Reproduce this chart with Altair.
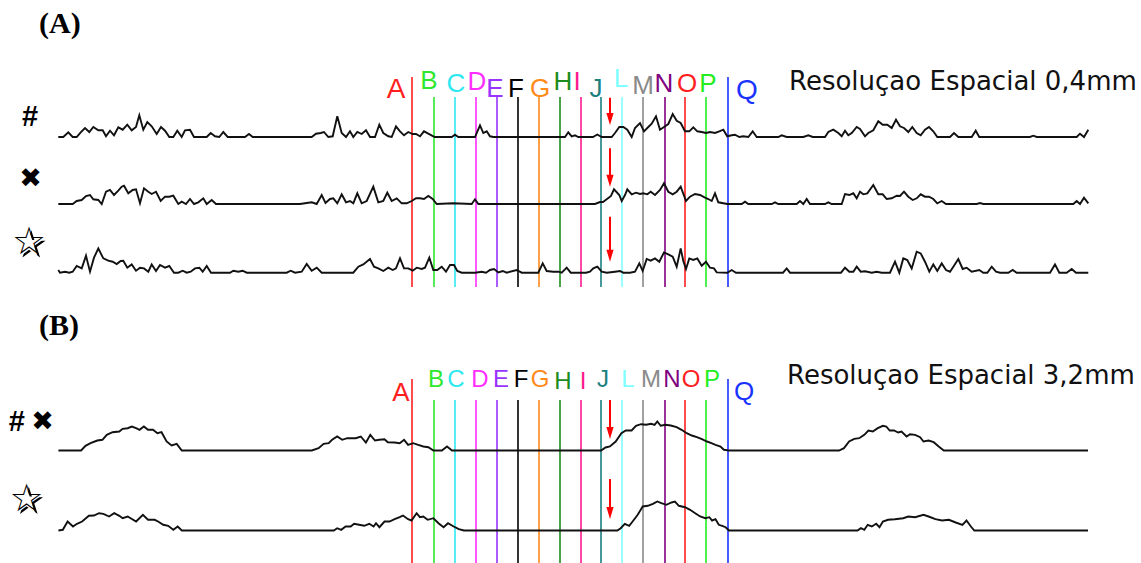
import altair as alt
import pandas as pd

W, H = 1141, 563

# ---------------- marker lines (position along scan, px) ----------------
MARKERS = ["A", "B", "C", "D", "E", "F", "G", "H", "I", "J", "L", "M", "N", "O", "P", "Q"]
MARKER_X = [412, 434, 455, 476, 497, 518, 539, 560, 581, 601, 622, 643, 665, 685, 706, 728]
MARKER_COLORS = ["#ff1f1f", "#2ee82e", "#2ee8f0", "#ff2eff", "#9933ff", "#000000", "#ff8a1a",
                 "#1c8c1c", "#ff1a8c", "#1a8080", "#80ffff", "#8a8a8a", "#800080", "#ff1f1f",
                 "#22ee22", "#1a33ff"]

# label anchor positions (layout)
LABEL_POS_A = [(396, 90), (429, 81), (456, 84), (477, 82), (495, 89), (516, 89), (540, 89),
               (563, 82), (577, 82), (596, 89), (621, 79), (643, 86), (664, 84), (687, 84),
               (708, 84), (747, 91)]
LABEL_POS_B = [(401, 393), (436, 380), (456, 380), (480, 380), (501, 380), (521, 380), (540, 380),
               (563, 382), (583, 382), (603, 380), (628, 380), (651, 380), (672, 380), (691, 380),
               (712, 380), (744, 392)]

# ---------------- traces: (position, amplitude) ----------------
TRACE_A1 = [(58.3,0),(63.3,0),(68.3,4.7),(72.7,0),(76.7,0),(80.7,4.7),(85,9),(89.3,5),(93.3,10),(98.3,6.7),
    (102.7,6.7),(106,0.7),(110,6.3),(114,1.7),(118.3,9.7),(122.7,7.3),(127.3,12.3),(131.7,6.7),(136,10),
    (139.3,21.7),(143.3,7.3),(147.3,15),(151.7,10.7),(156.7,3),(161,10),(165,6.3),(169.3,0),(173.3,0),
    (177.3,6.3),(181.7,0),(185,6.7),(190,7.3),(194,0),(206.7,0),(210.7,4),(215,0.7),(219.3,0),(223.3,5),
    (227.7,0),(245,0),(249,3),(252.7,0),(311.7,0),(316,3.3),(320.7,4),(324,5),(328.3,0),(332.7,0.7),
    (337.3,20.7),(341.7,4),(346,0),(350,5.7),(353.3,0),(357.3,5),(361.7,3),(366,6.7),(370,0),(375,0),
    (379.3,12.3),(383.3,4),(388.3,0.7),(391.7,0),(396,10.7),(400,5.7),(404,1.7),(408.3,5),(412.7,3),
    (416,3),(420,0.7),(424,5.7),(428.3,3.3),(433.3,0.7),(435,0),(451.7,0),(455,2.3),(458.3,0),(475,0),
    (480,11.7),(483.3,4),(486.7,5.7),(490,0.7),(493.3,0),(565,0),(568.3,4.7),(571.7,0.7),(575,1.7),
    (578.3,0),(593,0),(597.3,2.5),(601.7,0),(611.7,0),(615,4),(619.3,10),(623.3,10),(627.3,7.3),
    (631.7,0),(635,9),(640,14),(644,5.7),(648.3,10),(651.7,13.3),(656,20.7),(660,7.3),(664,10),
    (668.3,13),(672.7,23),(676.7,16.3),(680.7,14),(685,5.7),(689.3,5.7),(693.3,9.7),(697.3,5.7),
    (701.7,5),(706,4),(710,5),(715,4),(719.3,5.7),(723.3,7.3),(727.3,0.7),(731.7,1.7),(735,2.3),
    (739.3,0),(743.3,0.7),(748.3,0),(752.7,5.7),(756.7,0),(778.3,0),(781.7,1.7),(786.7,0),(803.3,0),
    (808.3,1.7),(812.7,0),(825,0),(828.3,5),(833.3,7.3),(838.3,4),(841.7,0.7),(845,6.3),(848.3,1.7),
    (851.7,4),(856.7,10),(860,8),(865,0.7),(868.3,4),(873.3,6.7),(878.3,15.7),(882.7,12.3),(887.3,12.3),
    (891.7,9),(896,17.3),(900,10.7),(904,9),(908.3,5),(912.3,10),(916.7,4),(920.7,1.7),(925,7.3),
    (929,10),(933.3,5.7),(937.3,0),(950,0),(954,4),(958.3,0),(971.7,0),(975.7,6.3),(979.3,0),(1030,0),
    (1033.3,1.3),(1036.7,0),(1076.7,0),(1080,3.3),(1084,0),(1088.3,7.3)]

TRACE_A2 = [(58.3,0),(72.7,0),(76.7,3),(81.7,4),(86,8),(90,9),(93.3,4.7),(98.3,4),(101.7,0),(106,12.3),
    (110,14),(114,9),(118.3,13.3),(121.7,17.3),(124,18.3),(128.3,10.7),(132.7,14),(136,14.7),(140,0.7),
    (144,15.7),(148.3,12.3),(151.7,10),(156,12.3),(160.7,3),(165,7.3),(169.3,7.3),(173.3,8.3),(178.3,0),
    (181.7,2.3),(186,0),(190,5),(194,0),(198.3,1.7),(203.3,5.7),(206.7,0),(211.7,4),(216,0),(300,0),
    (305,0.7),(311.7,1.7),(316.7,0),(321.7,9),(325.5,1),(330,5),(333.3,5.7),(337.3,0.7),(341.7,9.7),
    (346,1.7),(350,3),(353.3,0.7),(357.3,10.7),(361.7,0.7),(366.7,3),(373.3,17.3),(378.3,1.7),(383.3,3),
    (387.3,11.3),(391.7,3),(396.7,5.7),(401.7,0.7),(406.7,0.7),(411.7,3),(416,5.7),(420,5.7),(424,5),
    (428.3,8),(432.7,5),(436.7,0),(453.3,0.7),(471.7,0),(475,4.7),(478.3,0),(595,0),(600,2),(603,2),
    (607,5),(611,8),(614,14.7),(619.3,9),(621.7,3),(625,9),(627.3,14.7),(631.7,9.7),(636,11.3),(640,10),
    (643.3,10.7),(647.3,9.7),(650.7,12.3),(655,9),(660,14),(664,20.7),(668.3,12.3),(672.7,9.7),
    (676.7,12.3),(680.7,17.3),(686,3),(690,7.3),(695,10),(700,9),(705,6.3),(708.3,5),(711.7,3),
    (715,10.7),(718.3,1.7),(727.3,0),(741.7,0),(745,2.3),(748.3,0),(771.7,0),(775,1.7),(778.3,0),
    (796.7,0),(800,3),(803.3,0),(806.7,5),(810,0),(825,0),(828.3,1.7),(831.7,0),(841.7,0),(845,10),
    (849.3,9),(853.3,10.7),(856.7,5.7),(860,12.3),(863.3,9.7),(867.3,10.7),(873.3,19),(878.3,9.7),
    (882.7,9.7),(886.7,5),(891.7,5.7),(896.7,8.3),(900,8),(904,12.3),(908.3,7.3),(912.7,4),(916.7,5.7),
    (920.7,9.7),(925,7.3),(929,7.3),(933.3,5),(937.3,0.7),(941.7,3),(946,0),(976.7,0),(980,1),(983.3,0),
    (1073.3,0),(1076.7,3),(1080,0),(1084,6.3),(1088.3,0.7)]

TRACE_A3 = [(58.3,2.7),(60,0),(65,1),(69.3,0),(72.7,1),(76.7,6.7),(81.7,4.3),(86,17),(90,1),(94,15),
    (98.3,24.3),(103.3,14.3),(108.3,12),(112.7,11),(116.7,8.7),(120.7,11.7),(123.3,12),(127.3,5),
    (131.7,8.3),(136,2),(140,5),(144,4.3),(148.3,1),(151.7,8.3),(156,1.7),(160,7.7),(165,5),(169.3,6.7),
    (174,0),(178.3,0),(182.7,2),(186.7,0),(190.7,1),(195,4.3),(199.3,5),(202.7,1),(206.7,6.7),(211,0),
    (230,0),(233.3,2),(238.3,1),(242.7,2),(246.7,0),(286.7,0),(290.7,2),(295,0),(301.7,1),(306.7,8.7),
    (311.7,2),(316.7,5),(321.7,0),(353.3,0),(358.3,6),(363.3,8.3),(370,13.7),(374,6),(378.3,4.3),
    (383.3,1.7),(388.3,5),(392.7,2.7),(396,4.3),(400,14.3),(404,4.3),(408.3,4.3),(412.7,2),(416.7,5),
    (421.7,3.7),(425,5),(429.3,15),(433.3,2.7),(437.3,2.7),(441.7,6),(446,1),(450,7.7),(454,7.7),
    (457.3,1.7),(461.7,0),(475,0),(481.7,1),(486,0),(490,2.7),(494,3.7),(498.3,0.3),(502.7,1.7),
    (506.7,0),(516.7,2.7),(521.7,0),(538.3,0),(542.7,9.3),(546.7,1.7),(553.3,1),(558.3,1),(561.7,0),
    (566.7,5),(570.7,0),(586,0),(590,1),(593.3,4.3),(597.3,6),(601.7,1),(606.7,0),(615,1),(620,1.7),
    (623.3,0),(630,0),(635,1),(639.3,9.3),(642.7,1.7),(646.7,13.7),(650.7,12),(655,14.3),(659.3,11),
    (664,20.3),(668.3,18.3),(672.7,16),(676.7,6),(680.7,24.3),(683.3,11.7),(686,3.7),(689.3,14.3),
    (693.3,12.7),(697.3,14.3),(701.7,7),(706,11),(710,5),(714,4.3),(716.7,0.3),(727.3,0),(731.7,2.7),
    (736,0),(783,0),(786.7,4.3),(790,0),(841,0),(845,5),(849.3,1),(853.3,1),(856.7,6),(860.7,1),
    (865,1.5),(871.7,0),(876.7,1),(881.7,0),(890,0),(895,11),(899.3,0),(903.3,14.3),(907.3,12.7),
    (911.7,4.3),(916.7,21),(920.7,19.3),(925,11),(929.3,1),(933.3,8.3),(937.3,1.7),(941.7,9.3),
    (946,2.7),(950,1),(954,7),(958.3,13.7),(962.7,3.7),(966.7,5),(971.7,1),(979.3,2.7),(983.3,0),
    (987.3,0),(991.7,6),(996,1),(1000,0),(1008.3,0),(1012.7,2.7),(1016.7,0),(1050,0),(1055,8.3),
    (1059.3,0),(1066.7,0),(1071.7,3.7),(1076,0),(1088.3,0)]

TRACE_B1 = [(58.4,0),(81.1,0),(85.5,4.7),(90.5,7.3),(97.3,10),(102.4,10.7),(106.8,15.7),(112.5,18.3),
    (119.3,19),(122.6,21.7),(127.7,22.3),(131.8,24),(136.1,22.3),(139.5,20.7),(143.9,24),(148,20.7),
    (153,20.7),(157.4,17.3),(161.5,18.3),(166.6,9),(171.6,5),(176.7,6.7),(181.8,0),(311.8,0),(318.6,2.3),
    (323.6,6.7),(328.7,7.3),(332.1,10.7),(337.2,14),(342.2,10.7),(347.3,12.3),(355.7,12.3),(360.8,14),
    (365.9,8),(370.3,15.7),(375,10),(379.4,10.7),(384.5,11.3),(387.8,8.3),(394.6,8),(399.7,7.3),
    (404.1,10.7),(408.1,5.7),(413.2,7.3),(418.2,5.7),(423.3,4),(428.4,3.3),(433.4,0),(441.9,0),(447,4),
    (452,0),(601.1,0),(605.5,3),(609.9,4),(615.7,9),(621.4,17.3),(625.8,20),(631.6,20),(636,24.7),
    (641,26.3),(646.1,25.7),(651.2,26.7),(654.6,25.7),(657.3,29),(660.7,24.7),(665.4,25.7),(670.8,25),
    (676.6,23.3),(681.6,20.7),(686.7,17.3),(691.8,15),(696.9,13.3),(701.9,11.3),(707,9),(711.4,7.3),
    (715.5,5.7),(720.5,4),(723.9,0.7),(729,0),(839,0),(844,2.3),(849.1,9),(854.2,11.7),(859.2,12.3),
    (864.3,15.7),(868.4,20),(872.8,19),(877.8,22.3),(882.9,24.7),(886.3,24),(889.7,20),(894.1,20),
    (898.1,18),(901.5,19),(906.6,14),(910,16.3),(915.1,15.7),(920.1,13.3),(923.5,9),(928.6,10),
    (933.7,8.3),(938.7,4),(943.8,0),(1088,0)]

TRACE_B2 = [(58.4,0),(62.8,0.7),(67.6,9),(73,4),(77,6.7),(82.1,9),(88.9,14.7),(93.9,15),(99,17.3),
    (103.4,16.7),(109.1,14),(114.2,17.3),(119.3,14.7),(122.6,12.3),(127.7,14),(136.1,9),(142.9,15.7),
    (148,10.7),(154.7,10.7),(158.1,9),(163.2,5.7),(168.2,4.7),(173.3,0.7),(177.7,4),(181.8,0),(333.8,0),
    (337.2,2.3),(341.2,0.7),(345.6,4),(350.7,4),(354.1,6.7),(359.1,5.7),(364.2,4.7),(369.3,6.7),
    (373.6,4),(376,7.3),(379.4,3.3),(384.5,9),(389.5,9),(394.6,11.3),(399.7,13.3),(403,15),(408.1,11.3),
    (411.5,10),(416.6,17.3),(419.9,13.3),(423.3,14),(427.7,10.7),(433.4,12.3),(438.5,7.3),(443.6,3.3),
    (448,7.3),(453.7,4),(458.8,1.3),(463.9,0),(617.4,0),(620.7,2.3),(624.8,6.7),(629.2,4.7),(632.6,9),
    (637.7,15.7),(642.7,24),(647.8,24.7),(652.9,26.7),(657.3,29),(661.3,27.3),(666.4,25.7),(671.5,28),
    (674.9,29),(678.9,24.7),(685,23.3),(690.1,20.7),(695.2,17.3),(700.2,14),(705.3,12.3),(709.4,13.3),
    (712.1,10),(715.5,11.3),(718.8,5.7),(722.2,4.7),(725.6,3.3),(729,0),(857.5,0),(860.9,2.3),
    (864.3,0.7),(867.7,5.7),(871.8,4),(876.2,6.7),(879.5,3.3),(882.9,9),(888,10.7),(894.8,11.3),
    (903.2,12.3),(908.3,14),(915.1,13.3),(923.5,15.7),(928.6,14),(935.4,11.3),(942.1,10),(948.9,10.7),
    (955.7,8),(962.4,5.7),(966.5,10),(970.9,4),(974.3,0),(1088,0)]

# arrow position along scan
ARROW_X = 610

# ---------------- layout (pixel rows) ----------------
ROWS = [("A1", 137, TRACE_A1), ("A2", 204, TRACE_A2), ("A3", 272.7, TRACE_A3),
        ("B1", 450.5, TRACE_B1), ("B2", 530.5, TRACE_B2)]
PANEL_LINES = {"A": (77, 97, 287), "B": (379, 400, 563)}
ARROWS = [(97.7, 125), (148.3, 186.7), (216.7, 261.7), (400, 439), (479, 519)]

STAR_PATH = ("M0,-1L0.2245,-0.309L0.951,-0.309L0.363,0.118L0.588,0.809L0,0.382"
             "L-0.588,0.809L-0.363,0.118L-0.951,-0.309L-0.2245,-0.309Z")

# ---------------- build tables ----------------
trace_rows = []
for name, base, pts in ROWS:
    for i, (px, amp) in enumerate(pts):
        trace_rows.append({"trace": name, "x": px, "y": base - amp, "o": i})
traces_df = pd.DataFrame(trace_rows)

rule_rows, label_rows = [], []
for panel, pos, fs_main in (("A", LABEL_POS_A, 26), ("B", LABEL_POS_B, 24)):
    tall, top, bottom = PANEL_LINES[panel]
    for k, (m, mx, col) in enumerate(zip(MARKERS, MARKER_X, MARKER_COLORS)):
        t = tall if m in ("A", "Q") else top
        rule_rows.append({"x": mx, "y1": t, "y2": bottom, "color": col})
        fs = fs_main + 2 if m in ("A", "Q") else fs_main
        label_rows.append({"x": pos[k][0], "y": pos[k][1], "text": m, "color": col, "fs": fs})
rules_df = pd.DataFrame(rule_rows)
labels_df = pd.DataFrame(label_rows)

arrow_df = pd.DataFrame([{"x": ARROW_X, "y1": a, "y2": b - 10, "tip": b - 6} for a, b in ARROWS])

titles_df = pd.DataFrame([
    {"x": 789, "y": 82, "text": "Resoluçao Espacial 0,4mm"},
    {"x": 787, "y": 376, "text": "Resoluçao Espacial 3,2mm"},
])
panels_df = pd.DataFrame([{"x": 39, "y": 33, "text": "(A)"}, {"x": 39, "y": 335, "text": "(B)"}])
hash_df = pd.DataFrame([{"x": 30, "y": 117, "text": "#"}, {"x": 16.7, "y": 422, "text": "#"}])
cross_df = pd.DataFrame([{"x": 30.5, "y": 179, "text": "✖"}, {"x": 42.5, "y": 422, "text": "✖"}])
star_df = pd.DataFrame([{"x": 29, "y": 243, "text": "☆"}, {"x": 26.5, "y": 499.5, "text": "☆"}])

xs = alt.Scale(domain=[0, W], nice=False, zero=False)
ys = alt.Scale(domain=[0, H], nice=False, zero=False, reverse=True)


def X(f):
    return alt.X(f, type="quantitative", scale=xs, axis=None)


def Y(f):
    return alt.Y(f, type="quantitative", scale=ys, axis=None)


rules = alt.Chart(rules_df).mark_rule(strokeWidth=1.6).encode(
    x=X("x"), y=Y("y1"), y2="y2:Q", color=alt.Color("color:N", scale=None))

lines = alt.Chart(traces_df).mark_line(color="#111111", strokeWidth=1.9, strokeJoin="miter").encode(
    x=X("x"), y=Y("y"), detail="trace:N", order="o:Q")

shafts = alt.Chart(arrow_df).mark_rule(color="#ff0000", strokeWidth=2).encode(
    x=X("x"), y=Y("y1"), y2="y2:Q")
heads = alt.Chart(arrow_df).mark_point(filled=True, shape="M-0.6,-1L0.6,-1L0,1Z", size=144,
                                       color="#ff0000", opacity=1).encode(x=X("x"), y=Y("tip"))

labels = alt.Chart(labels_df).mark_text(font="Liberation Sans", align="center", baseline="middle").encode(
    x=X("x"), y=Y("y"), text="text:N", color=alt.Color("color:N", scale=None),
    size=alt.Size("fs:Q", scale=None))

titles = alt.Chart(titles_df).mark_text(font="DejaVu Sans", fontSize=26, align="left",
                                        baseline="middle", color="#111").encode(
    x=X("x"), y=Y("y"), text="text:N")

panels = alt.Chart(panels_df).mark_text(font="Liberation Serif", fontSize=30, fontWeight="bold",
                                        align="left", baseline="alphabetic", color="#000").encode(
    x=X("x"), y=Y("y"), text="text:N")

hashes = alt.Chart(hash_df).mark_text(font="Liberation Sans", fontSize=29, fontWeight="bold",
                                      align="center", baseline="middle", color="#000").encode(
    x=X("x"), y=Y("y"), text="text:N")

crosses = alt.Chart(cross_df).mark_text(font="DejaVu Sans", fontSize=27, align="center",
                                        baseline="middle", color="#000").encode(
    x=X("x"), y=Y("y"), text="text:N")

# shadow and white body of the star symbol, drawn as point marks behind the text glyph
star_shadow = alt.Chart(star_df).transform_calculate(sx="datum.x + 2.3", sy="datum.y + 2.3").mark_point(
    filled=True, shape=STAR_PATH, size=900, color="#000", opacity=1).encode(x=X("sx"), y=Y("sy"))
star_body = alt.Chart(star_df).transform_calculate(sy="datum.y + 1.3").mark_point(
    filled=True, shape=STAR_PATH, size=820, color="#fff", opacity=1).encode(x=X("x"), y=Y("sy"))
stars = alt.Chart(star_df).mark_text(font="DejaVu Sans", fontSize=38, align="center",
                                     baseline="middle", color="#000").encode(
    x=X("x"), y=Y("y"), text="text:N")

chart = alt.layer(rules, lines, shafts, heads, labels, titles, panels, hashes, crosses,
                  star_shadow, star_body, stars).properties(
    width=W, height=H, autosize=alt.AutoSizeParams(type="none"), padding=0, background="white"
).configure_view(stroke=None)

chart.save("out.html", embed_options={"renderer": "svg", "actions": False})
